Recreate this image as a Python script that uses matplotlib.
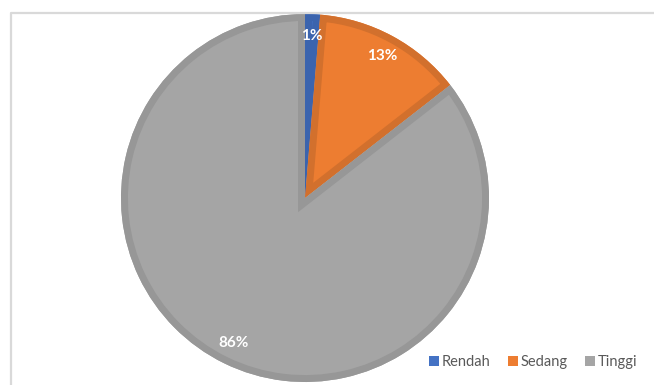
import matplotlib
matplotlib.use('Agg')
import matplotlib.pyplot as plt
from matplotlib.patches import Patch, Wedge
from matplotlib.lines import Line2D

# data
categories = ['Rendah', 'Sedang', 'Tinggi']
counts = [1, 10, 65]
fill_colors = ['#4472C4', '#ED7D31', '#A5A5A5']
edge_colors = ['#3B64AE', '#D2702D', '#979797']

W, H = 654, 385
fig = plt.figure(figsize=(W / 100, H / 100), dpi=100)
fig.patch.set_facecolor('white')

# chart area border (cropped screenshot: only left and top edges visible)
fig.add_artist(Line2D([11 / W, 11 / W, 1.0], [0.0, 1 - 13 / H, 1 - 13 / H],
                      color='#D9D9D9', lw=1.6, transform=fig.transFigure))

cx, cy, r = 305, 198, 184
ax = fig.add_axes([(cx - r) / W, (H - cy - r) / H, 2 * r / W, 2 * r / H])

wedges, texts, autotexts = ax.pie(
    counts, colors=fill_colors, startangle=90, counterclock=False,
    radius=1.0, autopct=lambda p: f'{p:.0f}%', pctdistance=0.88,
    wedgeprops=dict(linewidth=0),
    textprops=dict(color='white', fontsize=11, fontweight='bold', family='Lato'))

# darker outline drawn inside each slice: edge-only copy clipped to the slice
for w, ec in zip(wedges, edge_colors):
    e = Wedge(w.center, w.r, w.theta1, w.theta2, fill=False, edgecolor=ec,
              linewidth=10, joinstyle='miter', zorder=w.get_zorder() + 0.1)
    ax.add_patch(e)
    e.set_clip_path(w)
for t in autotexts:
    t.set_zorder(5)

ax.set_xlim(-1, 1)
ax.set_ylim(-1, 1)
ax.set_aspect('equal')
ax.axis('off')

handles = [Patch(facecolor=c, edgecolor='none', label=l) for c, l in zip(fill_colors, categories)]
fig.legend(handles=handles, loc='center right', bbox_to_anchor=(643 / W, 1 - 362 / H),
           ncol=3, frameon=False, handlelength=0.65, handleheight=0.65,
           handletextpad=0.2, columnspacing=1.2, borderaxespad=0,
           prop=dict(family='Lato', size=10.5), labelcolor='#595959')

fig.savefig('out.png', dpi=100)
